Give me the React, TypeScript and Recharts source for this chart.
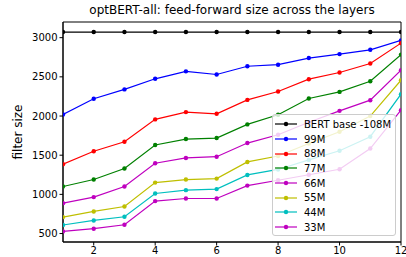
import React from 'react';
import {
  LineChart,
  Line,
  XAxis,
  YAxis,
  ReferenceArea,
} from 'recharts';

const layers = [1, 2, 3, 4, 5, 6, 7, 8, 9, 10, 11, 12];
const bertBase = [3072, 3072, 3072, 3072, 3072, 3072, 3072, 3072, 3072, 3072, 3072, 3072];
const m99 = [2020, 2220, 2340, 2475, 2570, 2530, 2635, 2655, 2740, 2790, 2845, 2965];
const m88 = [1385, 1550, 1672, 1957, 2050, 2028, 2206, 2313, 2470, 2555, 2670, 2930];
const m77 = [1100, 1190, 1330, 1630, 1706, 1719, 1893, 2016, 2224, 2308, 2444, 2784];
const m66 = [888, 965, 1100, 1397, 1465, 1481, 1655, 1761, 1920, 2066, 2202, 2584];
const m55 = [710, 782, 845, 1150, 1189, 1201, 1414, 1490, 1650, 1799, 2000, 2457];
const m44 = [609, 667, 714, 1011, 1054, 1067, 1248, 1318, 1440, 1557, 1736, 2279];
const m33 = [527, 562, 612, 914, 947, 947, 1112, 1180, 1250, 1320, 1585, 2075];

const xTicks = [2, 4, 6, 8, 10, 12];
const yTicks = [500, 1000, 1500, 2000, 2500, 3000];

// matplotlib single-letter colours
const series = [
  { key: 'bert', name: 'BERT base -108M', color: '#000000', values: bertBase },
  { key: 'm99', name: '99M', color: '#0000ff', values: m99 },
  { key: 'm88', name: '88M', color: '#ff0000', values: m88 },
  { key: 'm77', name: '77M', color: '#008000', values: m77 },
  { key: 'm66', name: '66M', color: '#bf00bf', values: m66 },
  { key: 'm55', name: '55M', color: '#bfbf00', values: m55 },
  { key: 'm44', name: '44M', color: '#00bfbf', values: m44 },
  { key: 'm33', name: '33M', color: '#bf00bf', values: m33 },
];

const rows = layers.map((layer, i) => {
  const row: Record<string, number> = { layer };
  series.forEach((s) => {
    row[s.key] = s.values[i];
  });
  return row;
});

const FONT = '"DejaVu Sans", sans-serif';

const PlotLegend = () => (
  <div
    style={{
      position: 'absolute',
      left: 272,
      top: 114,
      width: 124,
      height: 122,
      background: 'rgba(255,255,255,0.8)',
      border: '1px solid #cccccc',
      borderRadius: 3,
      boxSizing: 'border-box',
      paddingTop: 2,
      paddingLeft: 2,
    }}
  >
    {series.map((s) => (
      <div
        key={s.key}
        style={{ display: 'flex', alignItems: 'center', height: 14.7 }}
      >
        <svg width={22} height={10} style={{ marginRight: 7 }}>
          <line x1={0} y1={5} x2={22} y2={5} stroke={s.color} strokeWidth={1.2} />
          <circle cx={11} cy={5} r={2.2} fill={s.color} />
        </svg>
        <span style={{ fontSize: 10, color: '#000', whiteSpace: 'nowrap' }}>
          {s.name}
        </span>
      </div>
    ))}
  </div>
);

const App: React.FC = () => {
  return (
    <div
      style={{
        position: 'absolute',
        left: 0,
        top: 0,
        width: 406,
        height: 257,
        background: '#fff',
        fontFamily: FONT,
      }}
    >
      <div
        style={{
          position: 'absolute',
          left: 63,
          width: 338,
          top: 3,
          textAlign: 'center',
          fontSize: 12,
          lineHeight: '14px',
          color: '#000',
        }}
      >
        optBERT-all: feed-forward size across the layers
      </div>

      <LineChart
        width={406}
        height={257}
        data={rows}
        margin={{ top: 22, right: 5, bottom: 0, left: 0 }}
      >
        <XAxis
          dataKey="layer"
          type="number"
          domain={[1, 12]}
          ticks={xTicks}
          allowDataOverflow
          height={15}
          tickSize={3.5}
          tickMargin={1}
          tick={{ fontSize: 10, fill: '#000', fontFamily: FONT }}
          axisLine={{ stroke: '#000' }}
          tickLine={{ stroke: '#000' }}
        />
        <YAxis
          type="number"
          domain={[392, 3200]}
          ticks={yTicks}
          allowDataOverflow
          width={63}
          tickSize={3.5}
          tickMargin={2}
          tick={{ fontSize: 10, fill: '#000', fontFamily: FONT }}
          axisLine={{ stroke: '#000' }}
          tickLine={{ stroke: '#000' }}
          label={{
            value: 'filter size',
            angle: -90,
            position: 'insideLeft',
            offset: 18,
            style: { fontSize: 12, fill: '#000', fontFamily: FONT, textAnchor: 'middle' },
          }}
        />
        <ReferenceArea
          x1={1}
          x2={12}
          y1={392}
          y2={3200}
          fill="none"
          stroke="#000"
          strokeWidth={1}
        />
        {series.map((s) => (
          <Line
            key={s.key}
            dataKey={s.key}
            name={s.name}
            stroke={s.color}
            strokeWidth={1.2}
            dot={{ r: 2.2, fill: s.color, stroke: s.color, strokeWidth: 0 }}
            activeDot={false}
            isAnimationActive={false}
          />
        ))}
      </LineChart>

      <PlotLegend />
    </div>
  );
};

export default App;
